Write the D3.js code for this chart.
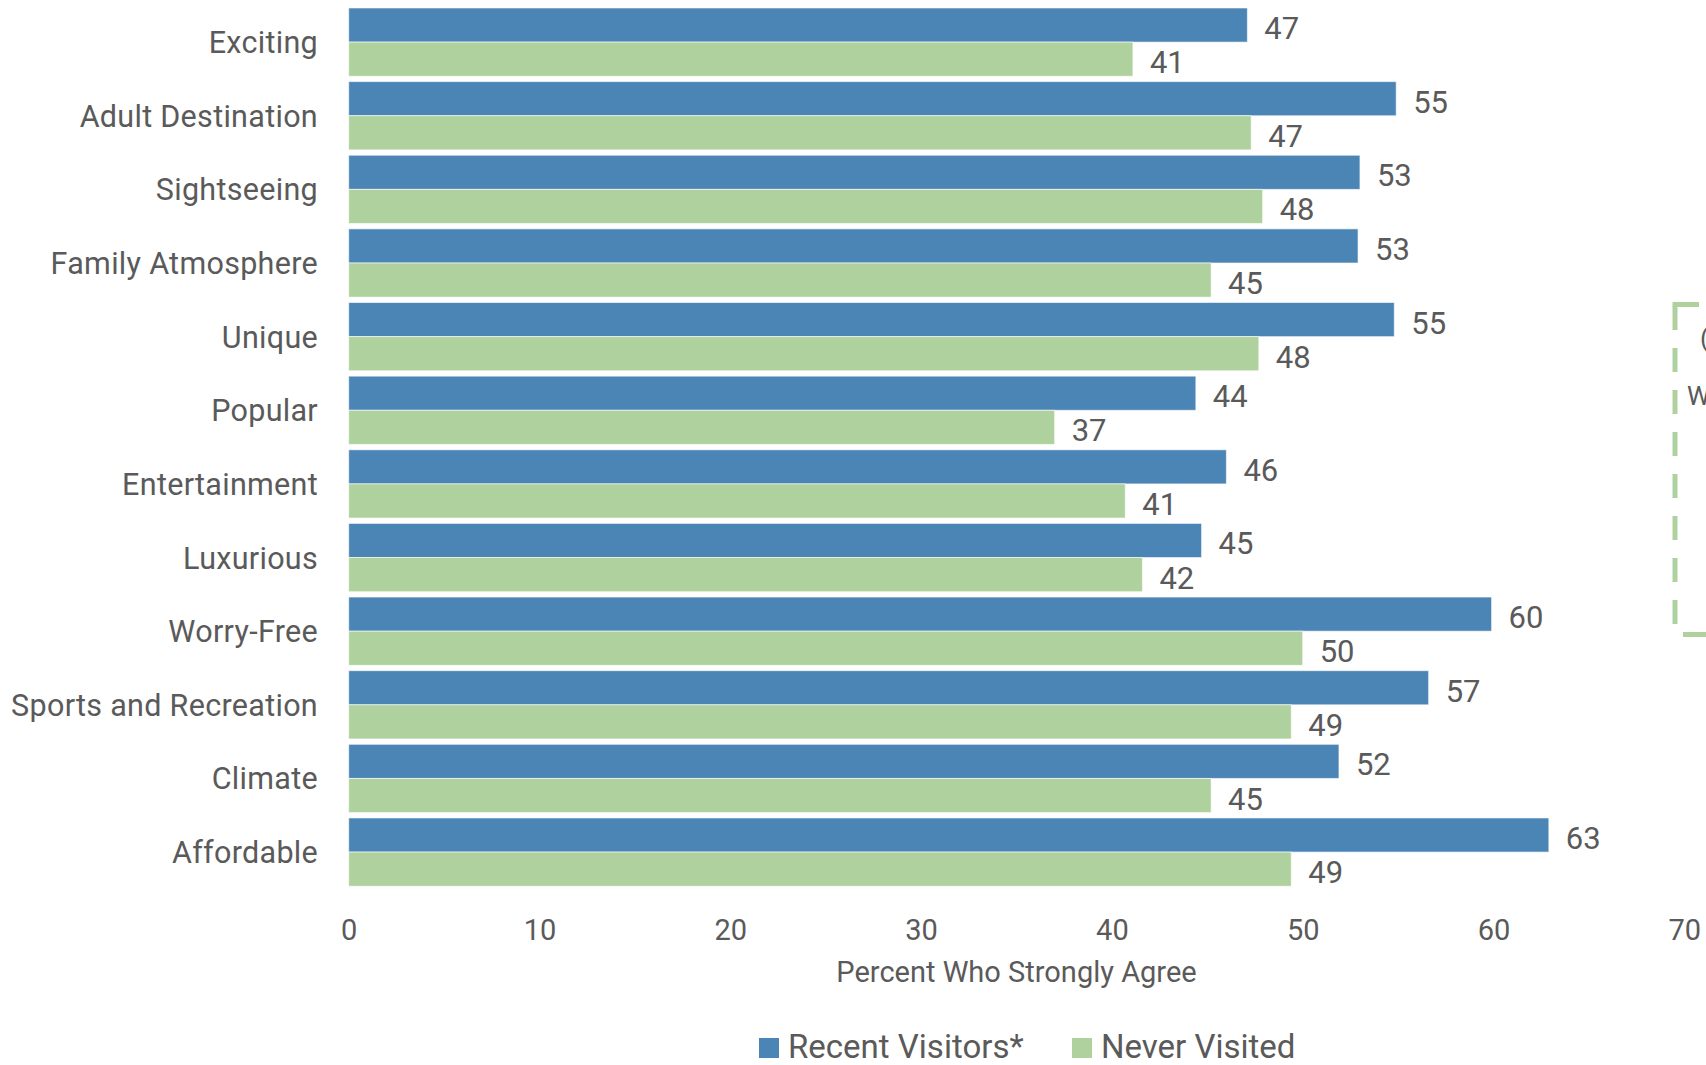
<!DOCTYPE html>
<html>
<head>
<meta charset="utf-8">
<script src="https://cdn.jsdelivr.net/npm/d3@7"></script>
<style>
  body { margin: 0; background: #fff; }
  svg { display: block; font-family: Roboto, "Noto Sans", sans-serif; }
</style>
</head>
<body>
<svg id="chart" width="1706" height="1065"></svg>
<script>
// data
const categories = ['Exciting', 'Adult Destination', 'Sightseeing', 'Family Atmosphere', 'Unique',
  'Popular', 'Entertainment', 'Luxurious', 'Worry-Free', 'Sports and Recreation', 'Climate', 'Affordable'];
const recentVisitors = [47.1, 54.9, 53.0, 52.9, 54.8, 44.4, 46.0, 44.7, 59.9, 56.6, 51.9, 62.9];
const neverVisited = [41.1, 47.3, 47.9, 45.2, 47.7, 37.0, 40.7, 41.6, 50.0, 49.4, 45.2, 49.4];
const seriesNames = ['Recent Visitors*', 'Never Visited'];
const xTicks = [0, 10, 20, 30, 40, 50, 60, 70];

const colors = { 'Recent Visitors*': '#4a85b5', 'Never Visited': '#aed19d' };
const textColor = '#5a5a5a';

let svg = d3.select('#chart');

let x = d3.scaleLinear()
  .domain([0, 70])
  .range([348.7, 1684.3]);

let y = d3.scaleBand()
  .domain(categories)
  .range([5.3, 888.9])
  .paddingInner(0.073)
  .paddingOuter(0.0365);

let ySub = d3.scaleBand()
  .domain(seriesNames)
  .range([0, y.bandwidth()]);

let rows = categories.map((c, i) => ({
  cat: c,
  vals: [
    { s: seriesNames[0], v: recentVisitors[i] },
    { s: seriesNames[1], v: neverVisited[i] }
  ]
}));

// category labels
svg.append('g')
  .selectAll('text')
  .data(categories)
  .enter()
  .append('text')
  .attr('x', 318)
  .attr('y', d => y(d) + y.bandwidth() / 2 + 11)
  .attr('text-anchor', 'end')
  .attr('font-size', 30.5)
  .attr('letter-spacing', 0.3)
  .attr('fill', textColor)
  .text(d => d);

let groups = svg.append('g')
  .selectAll('g')
  .data(rows)
  .enter()
  .append('g')
  .attr('transform', d => 'translate(0,' + y(d.cat) + ')');

groups.selectAll('rect')
  .data(d => d.vals)
  .enter()
  .append('rect')
  .attr('x', x(0))
  .attr('y', d => ySub(d.s))
  .attr('width', d => x(d.v) - x(0))
  .attr('height', ySub.bandwidth())
  .attr('fill', d => colors[d.s])
  .attr('stroke', '#ffffff')
  .attr('stroke-opacity', 0.6)
  .attr('stroke-width', 1);

groups.selectAll('text')
  .data(d => d.vals)
  .enter()
  .append('text')
  .attr('x', d => x(d.v) + 17)
  .attr('y', d => ySub(d.s) + ySub.bandwidth() / 2 + 14)
  .attr('font-size', 31)
  .attr('fill', textColor)
  .text(d => d3.format('.0f')(d.v));

// x axis (labels only)
let xAxis = d3.axisBottom(x)
  .tickValues(xTicks)
  .tickSize(0)
  .tickPadding(0);

let gX = svg.append('g')
  .attr('transform', 'translate(0,919)')
  .call(xAxis);
gX.select('.domain').remove();
gX.selectAll('text')
  .attr('font-family', 'Roboto, sans-serif')
  .attr('font-size', 29)
  .attr('fill', textColor)
  .attr('dy', '0.71em');

svg.append('text')
  .attr('x', (x.range()[0] + x.range()[1]) / 2)
  .attr('y', 982)
  .attr('text-anchor', 'middle')
  .attr('font-size', 29)
  .attr('fill', textColor)
  .text('Percent Who Strongly Agree');

// legend
let legendX = [759, 1072];
let legend = svg.append('g')
  .selectAll('g')
  .data(seriesNames)
  .enter()
  .append('g')
  .attr('transform', (d, i) => 'translate(' + legendX[i] + ',1038)');
legend.append('rect')
  .attr('width', 20)
  .attr('height', 20)
  .attr('fill', d => colors[d]);
legend.append('text')
  .attr('x', 29)
  .attr('y', 20)
  .attr('font-size', 33)
  .attr('fill', textColor)
  .text(d => d);

// dashed bracket at right edge (partly cut off)
let note = svg.append('g')
  .attr('stroke', '#aed19d')
  .attr('stroke-width', 5)
  .attr('fill', 'none');
note.append('line')
  .attr('x1', 1672.5).attr('x2', 1699)
  .attr('y1', 304.5).attr('y2', 304.5);
note.append('line')
  .attr('x1', 1675).attr('x2', 1675)
  .attr('y1', 306).attr('y2', 634)
  .attr('stroke-dasharray', '24 18');
note.append('line')
  .attr('x1', 1683).attr('x2', 1712)
  .attr('y1', 634.5).attr('y2', 634.5);

svg.append('text')
  .attr('x', 1700)
  .attr('y', 347)
  .attr('font-size', 26)
  .attr('fill', textColor)
  .text('(');
svg.append('text')
  .attr('x', 1687)
  .attr('y', 405)
  .attr('font-size', 26)
  .attr('fill', textColor)
  .text('W');
</script>
</body>
</html>
